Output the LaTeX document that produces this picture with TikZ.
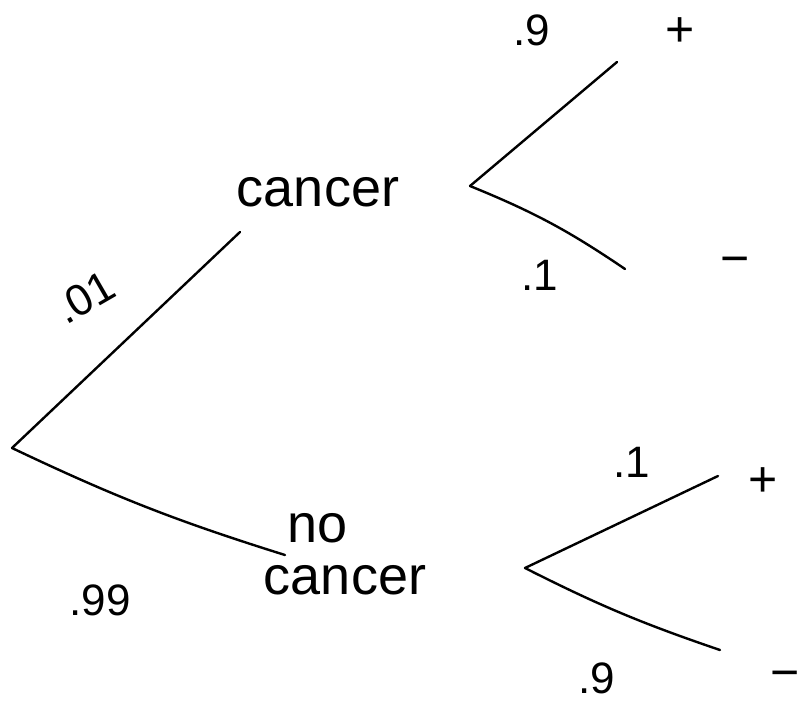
\documentclass[tikz,border=0pt]{standalone}
\usepackage{fontspec}
\setmainfont{Liberation Sans}
\begin{document}
\begin{tikzpicture}[x=1pt,y=-1pt,
  branch/.style={line width=2.4pt, line cap=round},
  word/.style={font=\fontsize{54}{54}\selectfont, inner sep=0pt},
  prob/.style={font=\fontsize{44}{44}\selectfont, inner sep=0pt},
  sign/.style={font=\fontsize{50}{50}\selectfont, inner sep=0pt}]
\useasboundingbox (0,0) rectangle (806,705);
% nodes
\coordinate (root) at (12,448);
\node[word] (cancer) at (318,192) {cancer};
\node[word] (no) at (318,528) {no};
\node[word] (nocancer) at (345,580) {cancer};
\coordinate (cin) at (240,232);
\coordinate (nin) at (285,555);
\coordinate (cs) at (470,186);
\coordinate (ns) at (525,568);
\coordinate (cpe) at (617,62);
\coordinate (cme) at (625,269);
\coordinate (npe) at (718,476);
\coordinate (nme) at (720,650);
\node[sign] (cplus) at (680,32) {+};
\node[sign] (cminus) at (735,266) {−};
\node[sign] (nplus) at (763,482) {+};
\node[sign] (nminus) at (785,680) {−};
% connectors
\draw[branch] (root) -- (cin);
\draw[branch] (root) to[bend right=4] (nin);
\draw[branch] (cs) -- (cpe);
\draw[branch] (cs) to[bend left=6] (cme);
\draw[branch] (ns) -- (npe);
\draw[branch] (ns) to[bend right=4] (nme);
% probabilities
\node[prob, rotate=30] (p01) at (85,297) {.01};
\node[prob] (p99) at (100,600) {.99};
\node[prob] (pc9) at (532,30) {.9};
\node[prob] (pc1) at (540,275) {.1};
\node[prob] (pn1) at (632,462) {.1};
\node[prob] (pn9) at (597,678) {.9};
\end{tikzpicture}
\end{document}
